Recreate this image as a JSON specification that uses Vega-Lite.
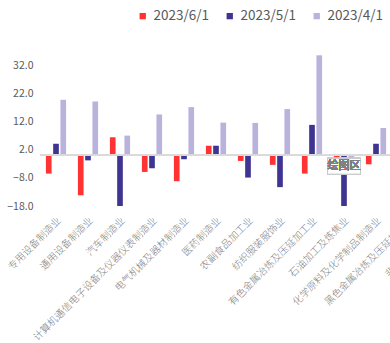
{
  "$schema": "https://vega.github.io/schema/vega-lite/v6.json",
  "autosize": {"type": "none"},
  "padding": {"left": 40, "top": 37, "right": 0, "bottom": 137},
  "width": 350,
  "height": 169,
  "background": "white",
  "config": {
    "view": {"stroke": null},
    "font": "Noto Sans CJK SC",
    "axis": {"labelOverlap": false}
  },
  "data": {
    "values": [
      {"industry": "专用设备制造业", "date": "2023/6/1", "value": -6.5},
      {"industry": "专用设备制造业", "date": "2023/5/1", "value": 4.1},
      {"industry": "专用设备制造业", "date": "2023/4/1", "value": 19.7},
      {"industry": "通用设备制造业", "date": "2023/6/1", "value": -14.2},
      {"industry": "通用设备制造业", "date": "2023/5/1", "value": -1.8},
      {"industry": "通用设备制造业", "date": "2023/4/1", "value": 19.1},
      {"industry": "汽车制造业", "date": "2023/6/1", "value": 6.4},
      {"industry": "汽车制造业", "date": "2023/5/1", "value": -18.0},
      {"industry": "汽车制造业", "date": "2023/4/1", "value": 7.0},
      {"industry": "计算机通信电子设备及仪器仪表制造业", "date": "2023/6/1", "value": -5.9},
      {"industry": "计算机通信电子设备及仪器仪表制造业", "date": "2023/5/1", "value": -4.6},
      {"industry": "计算机通信电子设备及仪器仪表制造业", "date": "2023/4/1", "value": 14.5},
      {"industry": "电气机械及器材制造业", "date": "2023/6/1", "value": -9.2},
      {"industry": "电气机械及器材制造业", "date": "2023/5/1", "value": -1.4},
      {"industry": "电气机械及器材制造业", "date": "2023/4/1", "value": 17.1},
      {"industry": "医药制造业", "date": "2023/6/1", "value": 3.4},
      {"industry": "医药制造业", "date": "2023/5/1", "value": 3.4},
      {"industry": "医药制造业", "date": "2023/4/1", "value": 11.6},
      {"industry": "农副食品加工业", "date": "2023/6/1", "value": -2.0},
      {"industry": "农副食品加工业", "date": "2023/5/1", "value": -7.9},
      {"industry": "农副食品加工业", "date": "2023/4/1", "value": 11.5},
      {"industry": "纺织服装服饰业", "date": "2023/6/1", "value": -3.4},
      {"industry": "纺织服装服饰业", "date": "2023/5/1", "value": -11.3},
      {"industry": "纺织服装服饰业", "date": "2023/4/1", "value": 16.4},
      {"industry": "有色金属冶炼及压延加工业", "date": "2023/6/1", "value": -6.5},
      {"industry": "有色金属冶炼及压延加工业", "date": "2023/5/1", "value": 10.8},
      {"industry": "有色金属冶炼及压延加工业", "date": "2023/4/1", "value": 35.5},
      {"industry": "石油加工及炼焦业", "date": "2023/6/1", "value": -1.5},
      {"industry": "石油加工及炼焦业", "date": "2023/5/1", "value": -18.0},
      {"industry": "石油加工及炼焦业", "date": "2023/4/1", "value": -1.1},
      {"industry": "化学原料及化学制品制造业", "date": "2023/6/1", "value": -3.2},
      {"industry": "化学原料及化学制品制造业", "date": "2023/5/1", "value": 4.1},
      {"industry": "化学原料及化学制品制造业", "date": "2023/4/1", "value": 9.7}
    ]
  },
  "layer": [
    {
      "mark": {"type": "bar"},
      "encoding": {
        "x": {
          "field": "industry",
          "type": "nominal",
          "sort": null,
          "scale": {
            "domain": ["专用设备制造业", "通用设备制造业", "汽车制造业", "计算机通信电子设备及仪器仪表制造业", "电气机械及器材制造业", "医药制造业", "农副食品加工业", "纺织服装服饰业", "有色金属冶炼及压延加工业", "石油加工及炼焦业", "化学原料及化学制品制造业", "黑色金属冶炼及压延加工业", "非金属矿物制品业"],
            "range": [0, 416],
            "paddingInner": 0.36,
            "paddingOuter": 0.18
          },
          "axis": {
            "title": null,
            "domain": false,
            "ticks": false,
            "labelAngle": -45,
            "labelFontSize": 10,
            "labelFontWeight": 300,
            "labelColor": "#808080",
            "labelPadding": 9,
            "labelLimit": 400,
            "labelOverlap": false
          }
        },
        "xOffset": {
          "field": "date",
          "type": "nominal",
          "sort": ["2023/6/1", "2023/5/1", "2023/4/1"],
          "scale": {"paddingInner": 0.22, "paddingOuter": 0.02}
        },
        "y": {
          "field": "value",
          "type": "quantitative",
          "scale": {"domain": [-18, 42], "nice": false, "zero": true},
          "axis": {
            "title": null,
            "domain": false,
            "ticks": false,
            "grid": false,
            "values": [-18, -8, 2, 12, 22, 32],
            "tickCount": 12,
            "format": ".1f",
            "labelFontSize": 10.5,
            "labelColor": "#595959",
            "labelPadding": 7,
            "labelOverlap": false,
            "labelBound": false
          }
        },
        "color": {
          "field": "date",
          "type": "nominal",
          "sort": ["2023/6/1", "2023/5/1", "2023/4/1"],
          "scale": {"range": ["#FF3333", "#3F3491", "#B9B2DA"]},
          "legend": {
            "title": null,
            "orient": "none",
            "direction": "horizontal",
            "legendX": 96,
            "legendY": -28,
            "symbolType": "square",
            "symbolSize": 40,
            "symbolStrokeWidth": 0,
            "labelFontSize": 13.5,
            "labelColor": "#595959",
            "labelOffset": 4,
            "columnPadding": 13
          }
        }
      }
    },
    {
      "mark": {"type": "rule", "color": "#D9D9D9", "strokeWidth": 1.2},
      "encoding": {"y": {"datum": 0}}
    },
    {
      "mark": {
        "type": "point",
        "shape": "M-1,-0.48H1V0.48H-1Z",
        "size": 1089,
        "filled": true,
        "fill": "white",
        "fillOpacity": 0.75,
        "stroke": "#C8C8C8",
        "strokeWidth": 1
      },
      "encoding": {
        "x": {"datum": "石油加工及炼焦业"},
        "y": {"datum": -3.9}
      }
    },
    {
      "mark": {"type": "text", "fontSize": 11, "color": "#7F7F7F", "align": "center", "baseline": "middle"},
      "encoding": {
        "x": {"datum": "石油加工及炼焦业"},
        "y": {"datum": -3.9},
        "text": {"value": "绘图区"}
      }
    }
  ]
}
